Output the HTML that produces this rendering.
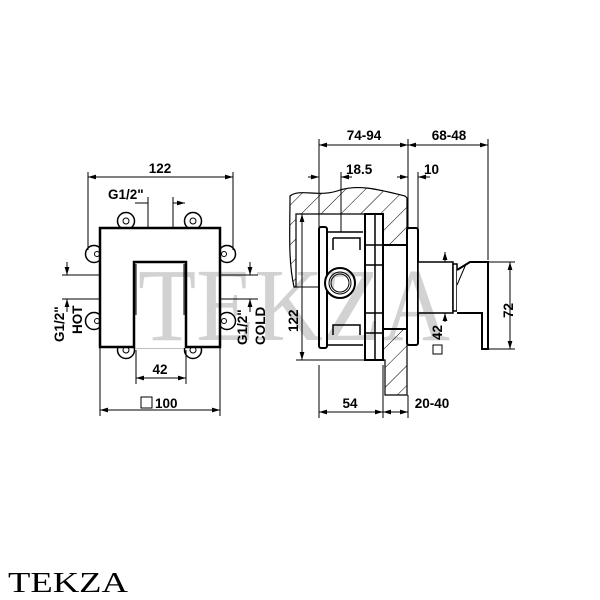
<!DOCTYPE html>
<html><head><meta charset="utf-8"><style>html,body{margin:0;padding:0;background:#fff}svg{display:block}</style></head><body>
<svg width="600" height="600" viewBox="0 0 600 600" xmlns="http://www.w3.org/2000/svg">
<defs>
<pattern id="h" width="14" height="14" patternUnits="userSpaceOnUse" patternTransform="rotate(45)">
<line x1="0" y1="0" x2="0" y2="14" stroke="#000" stroke-width="1"/>
</pattern>
<marker id="a" viewBox="0 0 10 6" refX="10" refY="3" markerWidth="8" markerHeight="5" orient="auto-start-reverse" markerUnits="userSpaceOnUse"><path d="M0,0L10,3L0,6z" fill="#000"/></marker>
</defs>
<g font-family="Liberation Sans, sans-serif" font-weight="bold" font-size="13.5" fill="#000">

<g stroke="#000" fill="none" stroke-width="1">
<!-- LEFT VIEW -->
<line x1="88" y1="177" x2="233" y2="177" marker-start="url(#a)" marker-end="url(#a)"/>
<line x1="88" y1="172" x2="88" y2="250"/><line x1="233" y1="172" x2="233" y2="250"/>
<line x1="135" y1="203" x2="148" y2="203"/><line x1="173" y1="203" x2="185" y2="203" marker-end="url(#a)"/>
<line x1="148" y1="197" x2="148" y2="228"/><line x1="173" y1="197" x2="173" y2="228"/>
<g stroke-width="1.5">
<circle cx="126" cy="221" r="8.5"/><circle cx="193" cy="221" r="8.5"/>
<circle cx="126" cy="350" r="8.5"/><circle cx="193" cy="350" r="8.5"/>
<circle cx="94" cy="254" r="8.5"/><circle cx="94" cy="321" r="8.5"/>
<circle cx="227" cy="254" r="8.5"/><circle cx="227" cy="321" r="8.5"/>
</g>
<g stroke-width="1"><circle cx="126" cy="221" r="3"/><circle cx="193" cy="221" r="3"/><circle cx="126" cy="350" r="3"/><circle cx="193" cy="350" r="3"/><circle cx="97" cy="254" r="2.5"/><circle cx="97" cy="321" r="2.5"/><circle cx="224" cy="254" r="2.5"/><circle cx="224" cy="321" r="2.5"/></g>
<rect x="100" y="228" width="120" height="119" fill="#fff" stroke-width="2.5"/>
<path d="M134,348V262H186V348" stroke-width="2.5" fill="#fff"/>
<line x1="136" y1="264" x2="136" y2="315"/><line x1="184" y1="264" x2="184" y2="315"/>
<line x1="62" y1="275" x2="100" y2="275"/><line x1="62" y1="299" x2="100" y2="299"/>
<line x1="67" y1="262" x2="67" y2="275" marker-end="url(#a)"/><line x1="67" y1="312" x2="67" y2="299" marker-end="url(#a)"/>
<line x1="220" y1="275" x2="258" y2="275"/><line x1="220" y1="299" x2="258" y2="299"/>
<line x1="250" y1="262" x2="250" y2="275" marker-end="url(#a)"/><line x1="250" y1="312" x2="250" y2="299" marker-end="url(#a)"/>
<line x1="136" y1="350" x2="136" y2="384"/><line x1="186" y1="350" x2="186" y2="384"/>
<line x1="136" y1="378" x2="186" y2="378" marker-start="url(#a)" marker-end="url(#a)"/>
<line x1="100" y1="347" x2="100" y2="416"/><line x1="220" y1="347" x2="220" y2="416"/>
<line x1="100" y1="410" x2="220" y2="410" marker-start="url(#a)" marker-end="url(#a)"/>
<rect x="141" y="397" width="11" height="11"/>

<!-- RIGHT VIEW -->
<line x1="319" y1="145" x2="408" y2="145" marker-start="url(#a)" marker-end="url(#a)"/>
<line x1="408" y1="145" x2="488" y2="145" marker-start="url(#a)" marker-end="url(#a)"/>
<line x1="319" y1="139" x2="319" y2="227"/><line x1="408" y1="139" x2="408" y2="228"/><line x1="488" y1="139" x2="488" y2="260"/>
<line x1="308" y1="177" x2="319" y2="177" marker-end="url(#a)"/><line x1="352" y1="177" x2="341" y2="177" marker-end="url(#a)"/>
<line x1="341" y1="172" x2="341" y2="270"/>
<line x1="397" y1="177" x2="408" y2="177" marker-end="url(#a)"/><line x1="430" y1="177" x2="418" y2="177" marker-end="url(#a)"/>
<line x1="418" y1="172" x2="418" y2="228"/>
<path d="M290,196C300,188 320,198 340,190C360,184 380,190 405,196L407,198V395H385V360H383V214H296V287H294C288,260 290,230 290,196Z" fill="url(#h)" stroke-width="1.2"/>
<rect x="327" y="232" width="38" height="110" fill="#fff" stroke="none"/>
<rect x="319" y="227" width="8" height="121" rx="2" fill="#fff" stroke-width="2"/>
<path d="M327,232H363M327,345H363" stroke-width="1.5"/>
<path d="M333,238H360V250M333,238V250" stroke-width="1.5"/>
<path d="M333,335V325H360V335" stroke-width="1.5"/>
<line x1="327" y1="232" x2="327" y2="345" stroke-width="1.5"/>
<circle cx="340" cy="283" r="15" fill="#fff" stroke-width="2"/><circle cx="340" cy="283" r="11"/><circle cx="340" cy="283" r="9"/>
<line x1="296" y1="287" x2="319" y2="287"/>
<rect x="365" y="214" width="18" height="146" fill="#fff" stroke-width="2"/>
<line x1="375" y1="214" x2="375" y2="360" stroke-width="1.5"/>
<path d="M365,245H383M365,265H383M365,313H383M365,333H383" stroke-width="1.5"/>
<rect x="383" y="245" width="24" height="84" fill="#fff" stroke-width="2"/>
<rect x="407" y="228" width="11" height="117" rx="2" fill="#fff" stroke-width="2"/>
<rect x="418" y="262" width="35" height="51" fill="#fff" stroke-width="1.5"/>
<rect x="453" y="264" width="4" height="47" fill="#fff" stroke-width="1.5"/>
<path d="M457,270L470,262H488V349H482V313H457" fill="#fff" stroke-width="2"/>
<path d="M457,285L466,264" stroke-width="1"/>
<line x1="488" y1="262" x2="515" y2="262"/><line x1="488" y1="349" x2="515" y2="349"/>
<line x1="510" y1="262" x2="510" y2="349" marker-start="url(#a)" marker-end="url(#a)"/>
<line x1="445" y1="252" x2="445" y2="262" marker-start="url(#a)"/>
<line x1="445" y1="313" x2="445" y2="322" marker-start="url(#a)"/>
<rect x="433" y="345" width="9" height="9"/>
<line x1="296" y1="214" x2="365" y2="214"/><line x1="296" y1="360" x2="365" y2="360"/>
<line x1="302" y1="214" x2="302" y2="360" marker-start="url(#a)" marker-end="url(#a)"/>
<line x1="319" y1="365" x2="319" y2="418"/><line x1="383" y1="365" x2="383" y2="418"/><line x1="408" y1="395" x2="408" y2="418"/>
<line x1="319" y1="412" x2="383" y2="412" marker-start="url(#a)" marker-end="url(#a)"/>
<line x1="383" y1="412" x2="408" y2="412" marker-start="url(#a)" marker-end="url(#a)"/>
</g>

<text x="160" y="173" text-anchor="middle">122</text>
<text x="108" y="199">G1/2"</text>
<text transform="translate(64,342) rotate(-90)">G1/2"</text>
<text transform="translate(82,334) rotate(-90)">HOT</text>
<text transform="translate(247,345) rotate(-90)">G1/2"</text>
<text transform="translate(265,345) rotate(-90)">COLD</text>
<text x="160" y="374" text-anchor="middle">42</text>
<text x="155" y="408">100</text>
<text x="364" y="140" text-anchor="middle">74-94</text>
<text x="449" y="140" text-anchor="middle">68-48</text>
<text x="346" y="174">18.5</text>
<text x="424" y="174">10</text>
<text transform="translate(298,332) rotate(-90)">122</text>
<text transform="translate(442,340) rotate(-90)">42</text>
<text transform="translate(513,318) rotate(-90)">72</text>
<text x="350" y="408" text-anchor="middle">54</text>
<text x="432" y="408" text-anchor="middle">20-40</text>
<text x="8" y="592" font-family="Liberation Serif, serif" font-weight="normal" font-size="29" textLength="120" lengthAdjust="spacingAndGlyphs">TEKZA</text>
<text x="138" y="340" font-family="Liberation Serif, serif" font-weight="normal" font-size="104" fill="#d2d2d2" style="mix-blend-mode:multiply" textLength="312" lengthAdjust="spacingAndGlyphs">TEKZA</text>
</g>
</svg>
</body></html>
